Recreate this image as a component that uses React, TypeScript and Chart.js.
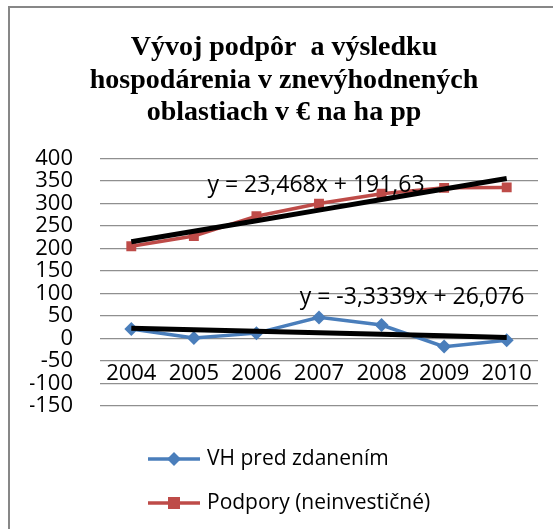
import React, { useEffect, useRef } from "react";
import { Chart, registerables } from "chart.js";

Chart.register(...registerables);

const years = ["2004", "2005", "2006", "2007", "2008", "2009", "2010"];
const vhPredZdanenim = [21, 1, 12, 47, 30, -18, -4];
const podpory = [205, 228, 272, 300, 322, 335, 336];
const titleLines = ["Vývoj podpôr  a výsledku", "hospodárenia v znevýhodnených", "oblastiach v € na ha pp"];
const seriesNames = ["VH pred zdanením", "Podpory (neinvestičné)"];
const trendLabels = ["y = 23,468x + 191,63", "y = -3,3339x + 26,076"];
const yMin = -150;
const yMax = 400;
const yStep = 50;

const BLUE = "#4a7ebb";
const RED = "#be4b48";
const FONT = "'Open Sans', sans-serif";

function fit(values: number[]) {
  const n = values.length;
  const xs = values.map((_, i) => i + 1);
  const mx = xs.reduce((a, b) => a + b, 0) / n;
  const my = values.reduce((a, b) => a + b, 0) / n;
  let sxy = 0, sxx = 0;
  for (let i = 0; i < n; i++) {
    sxy += (xs[i] - mx) * (values[i] - my);
    sxx += (xs[i] - mx) * (xs[i] - mx);
  }
  const slope = sxy / sxx;
  const intercept = my - slope * mx;
  return xs.map((x) => slope * x + intercept);
}

export default function App() {
  const ref = useRef<HTMLCanvasElement | null>(null);
  useEffect(() => {
    if (!ref.current) return;
    const vhFit = fit(vhPredZdanenim);
    const pFit = fit(podpory);

    const overlay = {
      id: "overlay",
      afterDraw(chart: any) {
        const { ctx, chartArea } = chart;
        ctx.save();
        ctx.font = `23px ${FONT}`;
        ctx.fillStyle = "#000";
        ctx.textAlign = "center";
        ctx.textBaseline = "middle";
        ctx.fillText(trendLabels[0], chartArea.left + 216, chartArea.top + 27);
        ctx.fillText(trendLabels[1], chartArea.left + 312, chartArea.top + 139);
        const items = [
          { name: seriesNames[0], color: BLUE, style: "diamond", y: 451 },
          { name: seriesNames[1], color: RED, style: "square", y: 495 },
        ];
        for (const it of items) {
          ctx.strokeStyle = it.color;
          ctx.lineWidth = 3.5;
          ctx.beginPath();
          ctx.moveTo(138, it.y);
          ctx.lineTo(190, it.y);
          ctx.stroke();
          ctx.fillStyle = it.color;
          ctx.beginPath();
          if (it.style === "diamond") {
            ctx.moveTo(164, it.y - 7);
            ctx.lineTo(171, it.y);
            ctx.lineTo(164, it.y + 7);
            ctx.lineTo(157, it.y);
            ctx.closePath();
          } else {
            ctx.rect(158, it.y - 6, 12, 12);
          }
          ctx.fill();
          ctx.fillStyle = "#000";
          ctx.textAlign = "left";
          ctx.font = `21px ${FONT}`;
          ctx.fillText(it.name, 197, it.y);
        }
        ctx.restore();
      },
    };

    const chart = new Chart(ref.current, {
      type: "line",
      data: {
        labels: years,
        datasets: [
          { label: "trend1", data: pFit, borderColor: "#000", borderWidth: 5, pointRadius: 0, order: 0 },
          { label: "trend2", data: vhFit, borderColor: "#000", borderWidth: 5, pointRadius: 0, order: 0 },
          {
            label: seriesNames[0],
            data: vhPredZdanenim,
            borderColor: BLUE,
            backgroundColor: BLUE,
            borderWidth: 3.5,
            pointStyle: "rectRot",
            pointRadius: 7,
            pointBorderWidth: 0,
            order: 1,
          },
          {
            label: seriesNames[1],
            data: podpory,
            borderColor: RED,
            backgroundColor: RED,
            borderWidth: 3.5,
            pointStyle: "rect",
            pointRadius: 7,
            pointBorderWidth: 0,
            order: 1,
          },
        ],
      },
      options: {
        responsive: false,
        animation: false,
        layout: { padding: { left: 20, right: 15, top: 0, bottom: 123 } },
        plugins: {
          legend: { display: false },
          tooltip: { enabled: false },
          title: {
            display: true,
            text: titleLines,
            color: "#000",
            font: { family: "'Liberation Serif', serif", size: 28, weight: "bold", lineHeight: 1.15 },
            padding: { top: 24, bottom: 30 },
          },
        },
        scales: {
          x: {
            position: { y: 0 } as any,
            offset: true,
            grid: { display: false },
            border: { display: false },
            ticks: { color: "#000", font: { family: FONT, size: 22 }, padding: 14, maxRotation: 0, autoSkip: false },
          },
          y: {
            min: yMin,
            max: yMax,
            grid: { color: "#8f8f8f", lineWidth: 1.3, drawTicks: false },
            border: { display: false },
            afterFit: (s: any) => {
              s.width = 70;
            },
            ticks: { stepSize: yStep, autoSkip: false, color: "#000", font: { family: FONT, size: 22 }, padding: 27 },
          },
        },
      },
      plugins: [overlay],
    });
    return () => chart.destroy();
  }, []);

  return (
    <div
      style={{
        position: "absolute",
        left: 8,
        top: 6,
        width: 545,
        height: 523,
        borderTop: "2px solid #878787",
        borderLeft: "2px solid #878787",
        boxSizing: "border-box",
        background: "#fff",
      }}
    >
      <canvas ref={ref} width={543} height={521} style={{ display: "block" }} />
    </div>
  );
}
